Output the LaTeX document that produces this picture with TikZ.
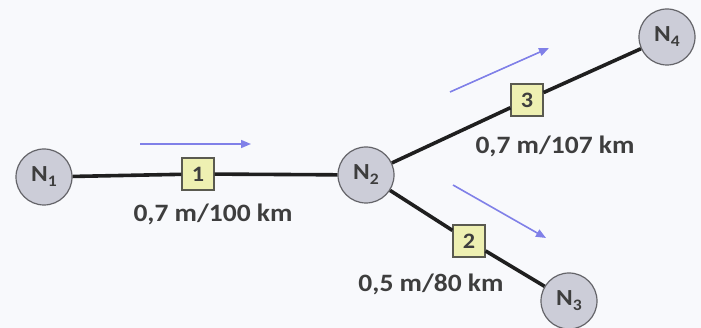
\documentclass[tikz,border=0pt]{standalone}
\usepackage{fontspec}
\setmainfont{Carlito}[FakeStretch=1.1]
\usetikzlibrary{arrows.meta}
\definecolor{bg}{RGB}{248,249,252}
\definecolor{nodefill}{RGB}{204,205,216}
\definecolor{nodeedge}{RGB}{100,100,105}
\definecolor{boxfill}{RGB}{238,240,178}
\definecolor{boxedge}{RGB}{90,90,80}
\definecolor{flow}{RGB}{128,128,232}
\definecolor{ink}{RGB}{62,62,62}
% bus name with a low, large index
\newcommand{\busname}[1]{N\raisebox{-5pt}{\fontsize{16}{16}\selectfont #1}}
\tikzset{
  bus/.style={circle, draw=nodeedge, line width=1.2pt, fill=nodefill, minimum size=56pt, inner sep=0pt, text=ink, font=\bfseries\fontsize{23}{23}\selectfont},
  linebox/.style={rectangle, draw=boxedge, line width=1.2pt, fill=boxfill, minimum size=32pt, inner sep=0pt, text=ink, font=\bfseries\fontsize{22}{22}\selectfont},
  wire/.style={line width=3.6pt, draw=black!88},
  lbl/.style={text=ink, font=\bfseries\fontsize{25}{25}\selectfont, inner sep=0pt},
  flowarrow/.style={draw=flow, line width=1.6pt, -{Triangle[length=10pt,width=8pt]}}
}
\begin{document}
\begin{tikzpicture}[x=1pt,y=-1pt]
  \fill[bg] (0,0) rectangle (701,328);
  \useasboundingbox (0,0) rectangle (701,328);
  % buses
  \node[bus] (n1) at (44,177) {\busname{1}};
  \node[bus] (n2) at (366,175) {\busname{2}};
  \node[bus] (n3) at (569,301) {\busname{3}};
  \node[bus] (n4) at (667,37) {\busname{4}};
  % branch boxes
  \node[linebox] (b1) at (198,174) {1};
  \node[linebox] (b2) at (469,241) {2};
  \node[linebox] (b3) at (527,100) {3};
  % connections
  \draw[wire] (n1) -- (b1);
  \draw[wire] (b1) -- (n2);
  \draw[wire] (n2) -- (b2);
  \draw[wire] (b2) -- (n3);
  \draw[wire] (n2) -- (b3);
  \draw[wire] (b3) -- (n4);
  % line data
  \node[lbl] (l1) at (213,214) {0,7 m/100 km};
  \node[lbl] (l2) at (431,284) {0,5 m/80 km};
  \node[lbl] (l3) at (555,146) {0,7 m/107 km};
  % power flow direction
  \coordinate (f1a) at (140,144);
  \coordinate (f1b) at (251,144);
  \coordinate (f2a) at (453,185);
  \coordinate (f2b) at (546,238);
  \coordinate (f3a) at (450,92);
  \coordinate (f3b) at (549,48);
  \draw[flowarrow] (f1a) -- (f1b);
  \draw[flowarrow] (f2a) -- (f2b);
  \draw[flowarrow] (f3a) -- (f3b);
\end{tikzpicture}
\end{document}
